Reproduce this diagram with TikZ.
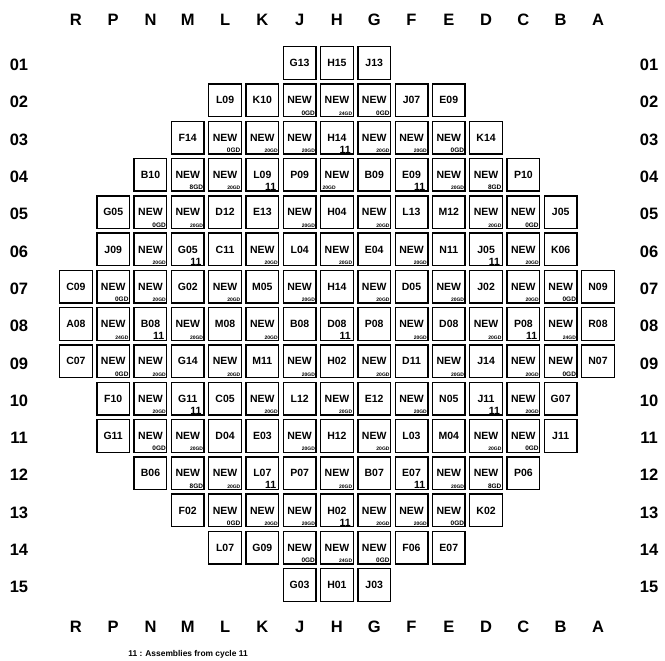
\documentclass[tikz,border=0pt]{standalone}
\usepackage{fontspec}
\setmainfont{Liberation Sans}
\begin{document}
\begin{tikzpicture}[x=1pt,y=-1pt,
  cell/.style={draw, line width=1.4pt, minimum size=32.6pt, inner sep=0pt,
    font=\bfseries\fontsize{10.5}{12}\selectfont},
  elev/.style={anchor=south east, inner sep=0pt, font=\bfseries\fontsize{10.5}{12}\selectfont},
  gdbig/.style={anchor=south east, inner sep=0pt, font=\bfseries\fontsize{6.5}{7}\selectfont},
  gdsmall/.style={anchor=south east, inner sep=0pt, font=\bfseries\fontsize{5}{6}\selectfont},
  axislbl/.style={inner sep=0pt, font=\bfseries\fontsize{16.5}{18}\selectfont},
  caption/.style={inner sep=0pt, font=\bfseries\fontsize{8.4}{10}\selectfont}]
\useasboundingbox (0,0) rectangle (665,661);
\fill[white] (0,0) rectangle (665,661);
% column letters
\foreach \c [count=\k from 0, evaluate=\k as \x using 75.9+\k*37.29] in {R,P,N,M,L,K,J,H,G,F,E,D,C,B,A} {
  \node[axislbl] (top\c) at (\x,19.5) {\c};
  \node[axislbl] (bot\c) at (\x,626.7) {\c};
}
% row numbers
\foreach \r [count=\k from 0, evaluate=\k as \y using 65+\k*37.29] in {01,02,03,04,05,06,07,08,09,10,11,12,13,14,15} {
  \node[axislbl] (left\r) at (19,\y) {\r};
  \node[axislbl] (right\r) at (649,\y) {\r};
}
% plain cells
\foreach \i/\r/\t [evaluate=\i as \x using 75.9+\i*37.29, evaluate=\r as \y using 63+(\r-1)*37.29] in {
  6/1/G13, 7/1/H15, 8/1/J13,
  4/2/L09, 5/2/K10, 9/2/J07, 10/2/E09,
  3/3/F14, 11/3/K14,
  2/4/B10, 6/4/P09, 8/4/B09, 12/4/P10,
  1/5/G05, 4/5/D12, 5/5/E13, 7/5/H04, 9/5/L13, 10/5/M12, 13/5/J05,
  1/6/J09, 4/6/C11, 6/6/L04, 8/6/E04, 10/6/N11, 13/6/K06,
  0/7/C09, 3/7/G02, 5/7/M05, 7/7/H14, 9/7/D05, 11/7/J02, 14/7/N09,
  0/8/A08, 4/8/M08, 6/8/B08, 8/8/P08, 10/8/D08, 14/8/R08,
  0/9/C07, 3/9/G14, 5/9/M11, 7/9/H02, 9/9/D11, 11/9/J14, 14/9/N07,
  1/10/F10, 4/10/C05, 6/10/L12, 8/10/E12, 10/10/N05, 13/10/G07,
  1/11/G11, 4/11/D04, 5/11/E03, 7/11/H12, 9/11/L03, 10/11/M04, 13/11/J11,
  2/12/B06, 6/12/P07, 8/12/B07, 12/12/P06,
  3/13/F02, 11/13/K02,
  4/14/L07, 5/14/G09, 9/14/F06, 10/14/E07,
  6/15/G03, 7/15/H01, 8/15/J03} {
  \node[cell] (c\i-\r) at (\x,\y) {\t};
}
% cells from cycle 11
\foreach \i/\r/\t [evaluate=\i as \x using 75.9+\i*37.29, evaluate=\r as \y using 63+(\r-1)*37.29] in {
  7/3/H14, 5/4/L09, 9/4/E09, 3/6/G05, 11/6/J05,
  2/8/B08, 7/8/D08, 12/8/P08, 3/10/G11, 11/10/J11,
  5/12/L07, 9/12/E07, 7/13/H02} {
  \node[cell] (c\i-\r) at (\x,\y) {\t};
  \node[elev] (s\i-\r) at (\x+14.0,\y+15.8) {11};
}
% NEW 0GD / 8GD
\foreach \i/\r/\g [evaluate=\i as \x using 75.9+\i*37.29, evaluate=\r as \y using 63+(\r-1)*37.29] in {
  6/2/0GD, 8/2/0GD, 4/3/0GD, 10/3/0GD, 2/5/0GD, 12/5/0GD,
  1/7/0GD, 13/7/0GD, 1/9/0GD, 13/9/0GD, 2/11/0GD, 12/11/0GD,
  4/13/0GD, 10/13/0GD, 6/14/0GD, 8/14/0GD,
  3/4/8GD, 11/4/8GD, 3/12/8GD, 11/12/8GD} {
  \node[cell] (c\i-\r) at (\x,\y) {NEW};
  \node[gdbig] (s\i-\r) at (\x+15.5,\y+15.3) {\g};
}
% NEW 20GD / 24GD
\foreach \i/\r/\g [evaluate=\i as \x using 75.9+\i*37.29, evaluate=\r as \y using 63+(\r-1)*37.29] in {
  7/2/24GD, 1/8/24GD, 13/8/24GD, 7/14/24GD,
  5/3/20GD, 6/3/20GD, 8/3/20GD, 9/3/20GD,
  4/4/20GD, 10/4/20GD,
  3/5/20GD, 6/5/20GD, 8/5/20GD, 11/5/20GD,
  2/6/20GD, 5/6/20GD, 7/6/20GD, 9/6/20GD, 12/6/20GD,
  2/7/20GD, 4/7/20GD, 6/7/20GD, 8/7/20GD, 10/7/20GD, 12/7/20GD,
  3/8/20GD, 5/8/20GD, 9/8/20GD, 11/8/20GD,
  2/9/20GD, 4/9/20GD, 6/9/20GD, 8/9/20GD, 10/9/20GD, 12/9/20GD,
  2/10/20GD, 5/10/20GD, 7/10/20GD, 9/10/20GD, 12/10/20GD,
  3/11/20GD, 6/11/20GD, 8/11/20GD, 11/11/20GD,
  4/12/20GD, 7/12/20GD, 10/12/20GD,
  5/13/20GD, 6/13/20GD, 8/13/20GD, 9/13/20GD} {
  \node[cell] (c\i-\r) at (\x,\y) {NEW};
  \node[gdsmall] (s\i-\r) at (\x+15.5,\y+15.3) {\g};
}
% NEW with label at the left
\node[cell] (c7-4) at (75.9+7*37.29,63+3*37.29) {NEW};
\node[gdsmall, anchor=south west] (s7-4) at (75.9+7*37.29-14.5,63+3*37.29+15.0) {20GD};
% caption
\node[caption] (legend) at (188,654) {11 : Assemblies from cycle 11};
\end{tikzpicture}
\end{document}
